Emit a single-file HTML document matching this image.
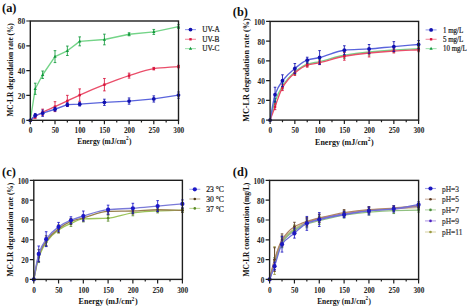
<!DOCTYPE html>
<html><head><meta charset="utf-8"><style>
html,body{margin:0;padding:0;background:#fff;width:470px;height:308px;overflow:hidden}
svg{display:block}
text{font-family:"Liberation Serif", serif}
</style></head><body>
<svg width="470" height="308" viewBox="0 0 470 308">
<rect width="470" height="308" fill="#fff"/>
<text x="2" y="12" font-size="12.4" font-weight="bold" fill="#111">(a)</text>
<path d="M30.3 120.3L35.24 88.77L42.65 74.75L55 56.62L67.35 50.79L79.7 41.36L104.4 39.49L129.1 34.28L153.8 31.92L178.5 26.59" fill="none" stroke="#74d488" stroke-width="1.35" stroke-linejoin="round"/>
<path d="M35.24 83.19V94.36M33.94 83.19H36.54M33.94 94.36H36.54" stroke="#129a3c" stroke-width="0.85" fill="none"/>
<path d="M42.65 71.02V78.47M41.35 71.02H43.95M41.35 78.47H43.95" stroke="#129a3c" stroke-width="0.85" fill="none"/>
<path d="M55 50.67V62.58M53.7 50.67H56.3M53.7 62.58H56.3" stroke="#129a3c" stroke-width="0.85" fill="none"/>
<path d="M67.35 46.07V55.51M66.05 46.07H68.65M66.05 55.51H68.65" stroke="#129a3c" stroke-width="0.85" fill="none"/>
<path d="M79.7 36.89V45.83M78.4 36.89H81M78.4 45.83H81" stroke="#129a3c" stroke-width="0.85" fill="none"/>
<path d="M104.4 34.16V44.83M103.1 34.16H105.7M103.1 44.83H105.7" stroke="#129a3c" stroke-width="0.85" fill="none"/>
<path d="M129.1 32.79V35.77M127.8 32.79H130.4M127.8 35.77H130.4" stroke="#129a3c" stroke-width="0.85" fill="none"/>
<path d="M153.8 29.44V34.41M152.5 29.44H155.1M152.5 34.41H155.1" stroke="#129a3c" stroke-width="0.85" fill="none"/>
<path d="M178.5 24.72V28.45M177.2 24.72H179.8M177.2 28.45H179.8" stroke="#129a3c" stroke-width="0.85" fill="none"/>
<path d="M30.3 118.5L31.95 121.5L28.65 121.5Z" fill="#129a3c"/>
<path d="M35.24 86.97L36.89 89.97L33.59 89.97Z" fill="#129a3c"/>
<path d="M42.65 72.95L44.3 75.95L41 75.95Z" fill="#129a3c"/>
<path d="M55 54.82L56.65 57.82L53.35 57.82Z" fill="#129a3c"/>
<path d="M67.35 48.99L69 51.99L65.7 51.99Z" fill="#129a3c"/>
<path d="M79.7 39.56L81.35 42.56L78.05 42.56Z" fill="#129a3c"/>
<path d="M104.4 37.69L106.05 40.69L102.75 40.69Z" fill="#129a3c"/>
<path d="M129.1 32.48L130.75 35.48L127.45 35.48Z" fill="#129a3c"/>
<path d="M153.8 30.12L155.45 33.12L152.15 33.12Z" fill="#129a3c"/>
<path d="M178.5 24.79L180.15 27.79L176.85 27.79Z" fill="#129a3c"/>
<path d="M30.3 120.3C31.95 119.06 33.59 117.67 35.24 116.58C37.71 114.93 40.18 113.51 42.65 112.23C46.77 110.11 50.88 108.53 55 106.65C59.12 104.76 63.23 102.86 67.35 100.94C71.47 99.01 75.58 96.95 79.7 95.1C87.93 91.41 96.17 87.91 104.4 84.68C112.63 81.44 120.87 78.24 129.1 75.61C137.33 72.99 145.57 69.74 153.8 68.66C162.03 67.58 170.27 67.26 178.5 66.55" fill="none" stroke="#ea4e6a" stroke-width="1.35" stroke-linejoin="round"/>
<path d="M35.24 114.71V118.44M33.94 114.71H36.54M33.94 118.44H36.54" stroke="#d8143c" stroke-width="0.85" fill="none"/>
<path d="M42.65 109.13V115.33M41.35 109.13H43.95M41.35 115.33H43.95" stroke="#d8143c" stroke-width="0.85" fill="none"/>
<path d="M55 101.68V111.61M53.7 101.68H56.3M53.7 111.61H56.3" stroke="#d8143c" stroke-width="0.85" fill="none"/>
<path d="M67.35 95.35V106.52M66.05 95.35H68.65M66.05 106.52H68.65" stroke="#d8143c" stroke-width="0.85" fill="none"/>
<path d="M79.7 88.9V101.31M78.4 88.9H81M78.4 101.31H81" stroke="#d8143c" stroke-width="0.85" fill="none"/>
<path d="M104.4 78.47V90.88M103.1 78.47H105.7M103.1 90.88H105.7" stroke="#d8143c" stroke-width="0.85" fill="none"/>
<path d="M129.1 73.13V78.1M127.8 73.13H130.4M127.8 78.1H130.4" stroke="#d8143c" stroke-width="0.85" fill="none"/>
<path d="M153.8 67.42V69.91M152.5 67.42H155.1M152.5 69.91H155.1" stroke="#d8143c" stroke-width="0.85" fill="none"/>
<path d="M178.5 65.31V67.8M177.2 65.31H179.8M177.2 67.8H179.8" stroke="#d8143c" stroke-width="0.85" fill="none"/>
<rect x="29.1" y="119.1" width="2.4" height="2.4" fill="#d8143c"/>
<rect x="34.04" y="115.38" width="2.4" height="2.4" fill="#d8143c"/>
<rect x="41.45" y="111.03" width="2.4" height="2.4" fill="#d8143c"/>
<rect x="53.8" y="105.45" width="2.4" height="2.4" fill="#d8143c"/>
<rect x="66.15" y="99.74" width="2.4" height="2.4" fill="#d8143c"/>
<rect x="78.5" y="93.9" width="2.4" height="2.4" fill="#d8143c"/>
<rect x="103.2" y="83.48" width="2.4" height="2.4" fill="#d8143c"/>
<rect x="127.9" y="74.41" width="2.4" height="2.4" fill="#d8143c"/>
<rect x="152.6" y="67.46" width="2.4" height="2.4" fill="#d8143c"/>
<rect x="177.3" y="65.35" width="2.4" height="2.4" fill="#d8143c"/>
<path d="M30.3 120.3L35.24 115.33L42.65 113.22L55 109.25L67.35 104.66L79.7 104.16L104.4 102.3L129.1 101.06L153.8 98.95L178.5 95.1" fill="none" stroke="#5a64dc" stroke-width="1.35" stroke-linejoin="round"/>
<path d="M35.24 113.47V117.2M33.94 113.47H36.54M33.94 117.2H36.54" stroke="#1010b0" stroke-width="0.85" fill="none"/>
<path d="M42.65 110.12V116.33M41.35 110.12H43.95M41.35 116.33H43.95" stroke="#1010b0" stroke-width="0.85" fill="none"/>
<path d="M55 107.39V111.11M53.7 107.39H56.3M53.7 111.11H56.3" stroke="#1010b0" stroke-width="0.85" fill="none"/>
<path d="M67.35 102.8V106.52M66.05 102.8H68.65M66.05 106.52H68.65" stroke="#1010b0" stroke-width="0.85" fill="none"/>
<path d="M79.7 102.3V106.03M78.4 102.3H81M78.4 106.03H81" stroke="#1010b0" stroke-width="0.85" fill="none"/>
<path d="M104.4 99.2V105.41M103.1 99.2H105.7M103.1 105.41H105.7" stroke="#1010b0" stroke-width="0.85" fill="none"/>
<path d="M129.1 97.96V104.16M127.8 97.96H130.4M127.8 104.16H130.4" stroke="#1010b0" stroke-width="0.85" fill="none"/>
<path d="M153.8 95.85V102.05M152.5 95.85H155.1M152.5 102.05H155.1" stroke="#1010b0" stroke-width="0.85" fill="none"/>
<path d="M178.5 92V98.21M177.2 92H179.8M177.2 98.21H179.8" stroke="#1010b0" stroke-width="0.85" fill="none"/>
<circle cx="30.3" cy="120.3" r="1.9" fill="#1010b0"/>
<circle cx="35.24" cy="115.33" r="1.9" fill="#1010b0"/>
<circle cx="42.65" cy="113.22" r="1.9" fill="#1010b0"/>
<circle cx="55" cy="109.25" r="1.9" fill="#1010b0"/>
<circle cx="67.35" cy="104.66" r="1.9" fill="#1010b0"/>
<circle cx="79.7" cy="104.16" r="1.9" fill="#1010b0"/>
<circle cx="104.4" cy="102.3" r="1.9" fill="#1010b0"/>
<circle cx="129.1" cy="101.06" r="1.9" fill="#1010b0"/>
<circle cx="153.8" cy="98.95" r="1.9" fill="#1010b0"/>
<circle cx="178.5" cy="95.1" r="1.9" fill="#1010b0"/>
<rect x="30.3" y="21" width="148.2" height="99.3" fill="none" stroke="#1e1e1e" stroke-width="1.4"/>
<path d="M30.3 120.3V124.3M42.65 120.3V122.5M55 120.3V124.3M67.35 120.3V122.5M79.7 120.3V124.3M92.05 120.3V122.5M104.4 120.3V124.3M116.75 120.3V122.5M129.1 120.3V124.3M141.45 120.3V122.5M153.8 120.3V124.3M166.15 120.3V122.5M178.5 120.3V124.3M30.3 120.3H26.3M30.3 95.47H26.3M30.3 70.65H26.3M30.3 45.83H26.3M30.3 21H26.3" stroke="#1e1e1e" stroke-width="1.2"/>
<text x="30.6" y="133.1" font-size="7.3" font-weight="bold" text-anchor="middle" fill="#222">0</text>
<text x="55.3" y="133.1" font-size="7.3" font-weight="bold" text-anchor="middle" fill="#222">50</text>
<text x="80" y="133.1" font-size="7.3" font-weight="bold" text-anchor="middle" fill="#222">100</text>
<text x="104.7" y="133.1" font-size="7.3" font-weight="bold" text-anchor="middle" fill="#222">150</text>
<text x="129.4" y="133.1" font-size="7.3" font-weight="bold" text-anchor="middle" fill="#222">200</text>
<text x="154.1" y="133.1" font-size="7.3" font-weight="bold" text-anchor="middle" fill="#222">250</text>
<text x="178.8" y="133.1" font-size="7.3" font-weight="bold" text-anchor="middle" fill="#222">300</text>
<text x="25.1" y="123.7" font-size="7.3" font-weight="bold" text-anchor="end" fill="#222">0</text>
<text x="25.1" y="98.88" font-size="7.3" font-weight="bold" text-anchor="end" fill="#222">20</text>
<text x="25.1" y="74.05" font-size="7.3" font-weight="bold" text-anchor="end" fill="#222">40</text>
<text x="25.1" y="49.23" font-size="7.3" font-weight="bold" text-anchor="end" fill="#222">60</text>
<text x="25.1" y="24.4" font-size="7.3" font-weight="bold" text-anchor="end" fill="#222">80</text>
<text x="104.4" y="143.7" font-size="7.7" font-weight="bold" text-anchor="middle" fill="#111" textLength="54.3" lengthAdjust="spacingAndGlyphs">Energy (mJ/cm<tspan font-size="5.39" dy="-3.4">2</tspan><tspan dy="3.4" dx="0.5">)</tspan></text>
<text transform="translate(12.7 69.9) rotate(-90)" x="0" y="0" font-size="7.4" font-weight="bold" text-anchor="middle" fill="#111" textLength="93.4" lengthAdjust="spacingAndGlyphs">MC-LR degradation rate (%)</text>
<path d="M185 29.6H196" stroke="#5a64dc" stroke-width="1.1" stroke-opacity="0.65"/>
<circle cx="190.5" cy="29.6" r="1.9" fill="#1010b0"/>
<text transform="translate(202.2 32.4) scale(0.96 1)" font-size="7.6" font-weight="normal" fill="#1e1e1e" stroke="#1e1e1e" stroke-width="0.22">UV-A</text>
<path d="M185 39.3H196" stroke="#ea4e6a" stroke-width="1.1" stroke-opacity="0.65"/>
<rect x="189.3" y="38.1" width="2.4" height="2.4" fill="#d8143c"/>
<text transform="translate(202.2 42.1) scale(0.96 1)" font-size="7.6" font-weight="normal" fill="#1e1e1e" stroke="#1e1e1e" stroke-width="0.22">UV-B</text>
<path d="M185 48.6H196" stroke="#74d488" stroke-width="1.1" stroke-opacity="0.65"/>
<path d="M190.5 46.8L192.15 49.8L188.85 49.8Z" fill="#129a3c"/>
<text transform="translate(202.2 51.4) scale(0.96 1)" font-size="7.6" font-weight="normal" fill="#1e1e1e" stroke="#1e1e1e" stroke-width="0.22">UV-C</text>
<text x="232.8" y="16" font-size="12.4" font-weight="bold" fill="#111">(b)</text>
<path d="M270.1 120.1C271.75 113.85 273.4 105.84 275.05 101.35C277.53 94.61 280 89.76 282.48 86.05C286.6 79.87 290.73 75.37 294.85 72.03C298.98 68.69 303.1 65.56 307.23 64.24C311.35 62.91 315.48 62.53 319.6 61.57C327.85 59.66 336.1 56.69 344.35 55.25C352.6 53.82 360.85 52.82 369.1 52C377.35 51.18 385.6 50.54 393.85 50.02C402.1 49.5 410.35 49.17 418.6 48.74" fill="none" stroke="#74d488" stroke-width="1.35" stroke-linejoin="round"/>
<path d="M275.05 98.39V104.31M273.75 98.39H276.35M273.75 104.31H276.35" stroke="#129a3c" stroke-width="0.85" fill="none"/>
<path d="M282.48 83.09V89.01M281.18 83.09H283.78M281.18 89.01H283.78" stroke="#129a3c" stroke-width="0.85" fill="none"/>
<path d="M294.85 69.57V74.5M293.55 69.57H296.15M293.55 74.5H296.15" stroke="#129a3c" stroke-width="0.85" fill="none"/>
<path d="M307.23 62.26V66.21M305.93 62.26H308.53M305.93 66.21H308.53" stroke="#129a3c" stroke-width="0.85" fill="none"/>
<path d="M319.6 59.6V63.54M318.3 59.6H320.9M318.3 63.54H320.9" stroke="#129a3c" stroke-width="0.85" fill="none"/>
<path d="M344.35 52.29V58.22M343.05 52.29H345.65M343.05 58.22H345.65" stroke="#129a3c" stroke-width="0.85" fill="none"/>
<path d="M369.1 49.04V54.96M367.8 49.04H370.4M367.8 54.96H370.4" stroke="#129a3c" stroke-width="0.85" fill="none"/>
<path d="M393.85 48.05V52M392.55 48.05H395.15M392.55 52H395.15" stroke="#129a3c" stroke-width="0.85" fill="none"/>
<path d="M418.6 46.77V50.71M417.3 46.77H419.9M417.3 50.71H419.9" stroke="#129a3c" stroke-width="0.85" fill="none"/>
<path d="M270.1 118.3L271.75 121.3L268.45 121.3Z" fill="#129a3c"/>
<path d="M275.05 99.55L276.7 102.55L273.4 102.55Z" fill="#129a3c"/>
<path d="M282.48 84.25L284.12 87.25L280.83 87.25Z" fill="#129a3c"/>
<path d="M294.85 70.23L296.5 73.23L293.2 73.23Z" fill="#129a3c"/>
<path d="M307.23 62.44L308.88 65.44L305.58 65.44Z" fill="#129a3c"/>
<path d="M319.6 59.77L321.25 62.77L317.95 62.77Z" fill="#129a3c"/>
<path d="M344.35 53.45L346 56.45L342.7 56.45Z" fill="#129a3c"/>
<path d="M369.1 50.2L370.75 53.2L367.45 53.2Z" fill="#129a3c"/>
<path d="M393.85 48.22L395.5 51.22L392.2 51.22Z" fill="#129a3c"/>
<path d="M418.6 46.94L420.25 49.94L416.95 49.94Z" fill="#129a3c"/>
<path d="M270.1 120.1C271.75 115.63 273.4 111.04 275.05 106.68C277.53 100.14 280 91.76 282.48 87.63C286.6 80.75 290.73 76.41 294.85 73.02C298.98 69.63 303.1 66.51 307.23 65.22C311.35 63.94 315.48 63.6 319.6 62.66C327.85 60.78 336.1 57.68 344.35 56.24C352.6 54.8 360.85 53.8 369.1 52.98C377.35 52.16 385.6 51.53 393.85 51.01C402.1 50.49 410.35 50.15 418.6 49.73" fill="none" stroke="#ea4e6a" stroke-width="1.35" stroke-linejoin="round"/>
<path d="M275.05 103.72V109.64M273.75 103.72H276.35M273.75 109.64H276.35" stroke="#d8143c" stroke-width="0.85" fill="none"/>
<path d="M282.48 84.67V90.59M281.18 84.67H283.78M281.18 90.59H283.78" stroke="#d8143c" stroke-width="0.85" fill="none"/>
<path d="M294.85 70.55V75.49M293.55 70.55H296.15M293.55 75.49H296.15" stroke="#d8143c" stroke-width="0.85" fill="none"/>
<path d="M307.23 63.25V67.2M305.93 63.25H308.53M305.93 67.2H308.53" stroke="#d8143c" stroke-width="0.85" fill="none"/>
<path d="M319.6 60.68V64.63M318.3 60.68H320.9M318.3 64.63H320.9" stroke="#d8143c" stroke-width="0.85" fill="none"/>
<path d="M344.35 52.29V60.19M343.05 52.29H345.65M343.05 60.19H345.65" stroke="#d8143c" stroke-width="0.85" fill="none"/>
<path d="M369.1 49.04V56.93M367.8 49.04H370.4M367.8 56.93H370.4" stroke="#d8143c" stroke-width="0.85" fill="none"/>
<path d="M393.85 49.04V52.98M392.55 49.04H395.15M392.55 52.98H395.15" stroke="#d8143c" stroke-width="0.85" fill="none"/>
<path d="M418.6 47.75V51.7M417.3 47.75H419.9M417.3 51.7H419.9" stroke="#d8143c" stroke-width="0.85" fill="none"/>
<rect x="268.9" y="118.9" width="2.4" height="2.4" fill="#d8143c"/>
<rect x="273.85" y="105.48" width="2.4" height="2.4" fill="#d8143c"/>
<rect x="281.28" y="86.43" width="2.4" height="2.4" fill="#d8143c"/>
<rect x="293.65" y="71.82" width="2.4" height="2.4" fill="#d8143c"/>
<rect x="306.03" y="64.02" width="2.4" height="2.4" fill="#d8143c"/>
<rect x="318.4" y="61.46" width="2.4" height="2.4" fill="#d8143c"/>
<rect x="343.15" y="55.04" width="2.4" height="2.4" fill="#d8143c"/>
<rect x="367.9" y="51.78" width="2.4" height="2.4" fill="#d8143c"/>
<rect x="392.65" y="49.81" width="2.4" height="2.4" fill="#d8143c"/>
<rect x="417.4" y="48.53" width="2.4" height="2.4" fill="#d8143c"/>
<path d="M270.1 120.1C271.75 111.61 273.4 99.31 275.05 94.64C277.53 87.62 280 84.01 282.48 80.72C286.6 75.24 290.73 71.77 294.85 68.48C298.98 65.18 303.1 61.53 307.23 60.19C311.35 58.84 315.48 58.53 319.6 57.52C327.85 55.51 336.1 50.95 344.35 50.22C352.6 49.49 360.85 49.49 369.1 48.94C377.35 48.38 385.6 47.31 393.85 46.57C402.1 45.83 410.35 45.19 418.6 44.5" fill="none" stroke="#5a64dc" stroke-width="1.35" stroke-linejoin="round"/>
<path d="M275.05 87.23V102.04M273.75 87.23H276.35M273.75 102.04H276.35" stroke="#1010b0" stroke-width="0.85" fill="none"/>
<path d="M282.48 74.8V86.64M281.18 74.8H283.78M281.18 86.64H283.78" stroke="#1010b0" stroke-width="0.85" fill="none"/>
<path d="M294.85 63.54V73.41M293.55 63.54H296.15M293.55 73.41H296.15" stroke="#1010b0" stroke-width="0.85" fill="none"/>
<path d="M307.23 57.23V63.15M305.93 57.23H308.53M305.93 63.15H308.53" stroke="#1010b0" stroke-width="0.85" fill="none"/>
<path d="M319.6 50.62V64.43M318.3 50.62H320.9M318.3 64.43H320.9" stroke="#1010b0" stroke-width="0.85" fill="none"/>
<path d="M344.35 45.78V54.66M343.05 45.78H345.65M343.05 54.66H345.65" stroke="#1010b0" stroke-width="0.85" fill="none"/>
<path d="M369.1 44.5V53.38M367.8 44.5H370.4M367.8 53.38H370.4" stroke="#1010b0" stroke-width="0.85" fill="none"/>
<path d="M393.85 41.63V51.5M392.55 41.63H395.15M392.55 51.5H395.15" stroke="#1010b0" stroke-width="0.85" fill="none"/>
<path d="M418.6 40.55V48.44M417.3 40.55H419.9M417.3 48.44H419.9" stroke="#1010b0" stroke-width="0.85" fill="none"/>
<circle cx="270.1" cy="120.1" r="1.9" fill="#1010b0"/>
<circle cx="275.05" cy="94.64" r="1.9" fill="#1010b0"/>
<circle cx="282.48" cy="80.72" r="1.9" fill="#1010b0"/>
<circle cx="294.85" cy="68.48" r="1.9" fill="#1010b0"/>
<circle cx="307.23" cy="60.19" r="1.9" fill="#1010b0"/>
<circle cx="319.6" cy="57.52" r="1.9" fill="#1010b0"/>
<circle cx="344.35" cy="50.22" r="1.9" fill="#1010b0"/>
<circle cx="369.1" cy="48.94" r="1.9" fill="#1010b0"/>
<circle cx="393.85" cy="46.57" r="1.9" fill="#1010b0"/>
<circle cx="418.6" cy="44.5" r="1.9" fill="#1010b0"/>
<rect x="270.1" y="21.4" width="148.5" height="98.7" fill="none" stroke="#1e1e1e" stroke-width="1.4"/>
<path d="M270.1 120.1V124.1M282.48 120.1V122.3M294.85 120.1V124.1M307.23 120.1V122.3M319.6 120.1V124.1M331.98 120.1V122.3M344.35 120.1V124.1M356.73 120.1V122.3M369.1 120.1V124.1M381.48 120.1V122.3M393.85 120.1V124.1M406.23 120.1V122.3M418.6 120.1V124.1M270.1 120.1H266.1M270.1 100.36H266.1M270.1 80.62H266.1M270.1 60.88H266.1M270.1 41.14H266.1M270.1 21.4H266.1" stroke="#1e1e1e" stroke-width="1.2"/>
<text x="270.4" y="132.9" font-size="7.3" font-weight="bold" text-anchor="middle" fill="#222">0</text>
<text x="295.15" y="132.9" font-size="7.3" font-weight="bold" text-anchor="middle" fill="#222">50</text>
<text x="319.9" y="132.9" font-size="7.3" font-weight="bold" text-anchor="middle" fill="#222">100</text>
<text x="344.65" y="132.9" font-size="7.3" font-weight="bold" text-anchor="middle" fill="#222">150</text>
<text x="369.4" y="132.9" font-size="7.3" font-weight="bold" text-anchor="middle" fill="#222">200</text>
<text x="394.15" y="132.9" font-size="7.3" font-weight="bold" text-anchor="middle" fill="#222">250</text>
<text x="418.9" y="132.9" font-size="7.3" font-weight="bold" text-anchor="middle" fill="#222">300</text>
<text x="264.9" y="123.5" font-size="7.3" font-weight="bold" text-anchor="end" fill="#222">0</text>
<text x="264.9" y="103.76" font-size="7.3" font-weight="bold" text-anchor="end" fill="#222">20</text>
<text x="264.9" y="84.02" font-size="7.3" font-weight="bold" text-anchor="end" fill="#222">40</text>
<text x="264.9" y="64.28" font-size="7.3" font-weight="bold" text-anchor="end" fill="#222">60</text>
<text x="264.9" y="44.54" font-size="7.3" font-weight="bold" text-anchor="end" fill="#222">80</text>
<text x="264.9" y="24.8" font-size="7.3" font-weight="bold" text-anchor="end" fill="#222">100</text>
<text x="344.35" y="144.6" font-size="8.1" font-weight="bold" text-anchor="middle" fill="#111" textLength="58.5" lengthAdjust="spacingAndGlyphs">Energy (mJ/cm<tspan font-size="5.67" dy="-3.4">2</tspan><tspan dy="3.4" dx="0.5">)</tspan></text>
<text transform="translate(248.6 70.1) rotate(-90)" x="0" y="0" font-size="7.5" font-weight="bold" text-anchor="middle" fill="#111" textLength="103.4" lengthAdjust="spacingAndGlyphs">MC-LR degradation rate (%)</text>
<path d="M425.6 29.9H436.6" stroke="#5a64dc" stroke-width="1.1" stroke-opacity="0.65"/>
<circle cx="431.1" cy="29.9" r="1.9" fill="#1010b0"/>
<text transform="translate(443 32.7) scale(0.94 1)" font-size="7.4" font-weight="normal" fill="#1e1e1e" stroke="#1e1e1e" stroke-width="0.22">1 mg/L</text>
<path d="M425.6 39.3H436.6" stroke="#ea4e6a" stroke-width="1.1" stroke-opacity="0.65"/>
<rect x="429.9" y="38.1" width="2.4" height="2.4" fill="#d8143c"/>
<text transform="translate(443 42.1) scale(0.94 1)" font-size="7.4" font-weight="normal" fill="#1e1e1e" stroke="#1e1e1e" stroke-width="0.22">5 mg/L</text>
<path d="M425.6 48.6H436.6" stroke="#74d488" stroke-width="1.1" stroke-opacity="0.65"/>
<path d="M431.1 46.8L432.75 49.8L429.45 49.8Z" fill="#129a3c"/>
<text transform="translate(443 51.4) scale(0.94 1)" font-size="7.4" font-weight="normal" fill="#1e1e1e" stroke="#1e1e1e" stroke-width="0.22">10 mg/L</text>
<text x="2" y="175.6" font-size="12.4" font-weight="bold" fill="#111">(c)</text>
<path d="M33.8 279.4C35.45 272.13 37.1 262.36 38.75 257.6C41.23 250.46 43.71 245.68 46.18 242.24C50.31 236.51 54.44 232.68 58.57 229.85C62.69 227.02 66.82 225.17 70.95 223.41C75.08 221.65 79.21 219.22 83.33 218.95C91.59 218.41 99.84 218.62 108.1 218.16C116.36 217.7 124.61 213.73 132.87 212.8C141.12 211.88 149.38 211.29 157.63 210.92C165.89 210.55 174.14 210.39 182.4 210.13" fill="none" stroke="#9cc45a" stroke-width="1.35" stroke-linejoin="round"/>
<path d="M38.75 252.64V262.55M37.45 252.64H40.05M37.45 262.55H40.05" stroke="#5a8a28" stroke-width="0.85" fill="none"/>
<path d="M46.18 238.27V246.2M44.88 238.27H47.48M44.88 246.2H47.48" stroke="#5a8a28" stroke-width="0.85" fill="none"/>
<path d="M58.57 226.88V232.82M57.27 226.88H59.87M57.27 232.82H59.87" stroke="#5a8a28" stroke-width="0.85" fill="none"/>
<path d="M70.95 220.44V226.38M69.65 220.44H72.25M69.65 226.38H72.25" stroke="#5a8a28" stroke-width="0.85" fill="none"/>
<path d="M83.33 215.98V221.92M82.03 215.98H84.63M82.03 221.92H84.63" stroke="#5a8a28" stroke-width="0.85" fill="none"/>
<path d="M108.1 215.18V221.13M106.8 215.18H109.4M106.8 221.13H109.4" stroke="#5a8a28" stroke-width="0.85" fill="none"/>
<path d="M132.87 209.83V215.78M131.57 209.83H134.17M131.57 215.78H134.17" stroke="#5a8a28" stroke-width="0.85" fill="none"/>
<path d="M157.63 208.94V212.9M156.33 208.94H158.93M156.33 212.9H158.93" stroke="#5a8a28" stroke-width="0.85" fill="none"/>
<path d="M182.4 208.15V212.11M181.1 208.15H183.7M181.1 212.11H183.7" stroke="#5a8a28" stroke-width="0.85" fill="none"/>
<circle cx="33.8" cy="279.4" r="1.3" fill="#5a8a28"/>
<circle cx="38.75" cy="257.6" r="1.3" fill="#5a8a28"/>
<circle cx="46.18" cy="242.24" r="1.3" fill="#5a8a28"/>
<circle cx="58.57" cy="229.85" r="1.3" fill="#5a8a28"/>
<circle cx="70.95" cy="223.41" r="1.3" fill="#5a8a28"/>
<circle cx="83.33" cy="218.95" r="1.3" fill="#5a8a28"/>
<circle cx="108.1" cy="218.16" r="1.3" fill="#5a8a28"/>
<circle cx="132.87" cy="212.8" r="1.3" fill="#5a8a28"/>
<circle cx="157.63" cy="210.92" r="1.3" fill="#5a8a28"/>
<circle cx="182.4" cy="210.13" r="1.3" fill="#5a8a28"/>
<path d="M33.8 279.4C35.45 271.47 37.1 260.41 38.75 255.62C41.23 248.42 43.71 244.06 46.18 240.75C50.31 235.23 54.44 231.91 58.57 228.86C62.69 225.81 66.82 223 70.95 221.43C75.08 219.85 79.21 219.08 83.33 217.96C91.59 215.71 99.84 211.67 108.1 211.42C116.36 211.17 124.61 211.22 132.87 211.02C141.12 210.82 149.38 209.73 157.63 209.73C165.89 209.73 174.14 210.13 182.4 210.33" fill="none" stroke="#98804e" stroke-width="1.35" stroke-linejoin="round"/>
<path d="M38.75 249.67V261.56M37.45 249.67H40.05M37.45 261.56H40.05" stroke="#4e3a1c" stroke-width="0.85" fill="none"/>
<path d="M46.18 235.8V245.71M44.88 235.8H47.48M44.88 245.71H47.48" stroke="#4e3a1c" stroke-width="0.85" fill="none"/>
<path d="M58.57 224.89V232.82M57.27 224.89H59.87M57.27 232.82H59.87" stroke="#4e3a1c" stroke-width="0.85" fill="none"/>
<path d="M70.95 218.45V224.4M69.65 218.45H72.25M69.65 224.4H72.25" stroke="#4e3a1c" stroke-width="0.85" fill="none"/>
<path d="M83.33 214.99V220.93M82.03 214.99H84.63M82.03 220.93H84.63" stroke="#4e3a1c" stroke-width="0.85" fill="none"/>
<path d="M108.1 208.44V214.39M106.8 208.44H109.4M106.8 214.39H109.4" stroke="#4e3a1c" stroke-width="0.85" fill="none"/>
<path d="M132.87 208.05V213.99M131.57 208.05H134.17M131.57 213.99H134.17" stroke="#4e3a1c" stroke-width="0.85" fill="none"/>
<path d="M157.63 207.75V211.71M156.33 207.75H158.93M156.33 211.71H158.93" stroke="#4e3a1c" stroke-width="0.85" fill="none"/>
<path d="M182.4 208.35V212.31M181.1 208.35H183.7M181.1 212.31H183.7" stroke="#4e3a1c" stroke-width="0.85" fill="none"/>
<circle cx="33.8" cy="279.4" r="1.3" fill="#4e3a1c"/>
<circle cx="38.75" cy="255.62" r="1.3" fill="#4e3a1c"/>
<circle cx="46.18" cy="240.75" r="1.3" fill="#4e3a1c"/>
<circle cx="58.57" cy="228.86" r="1.3" fill="#4e3a1c"/>
<circle cx="70.95" cy="221.43" r="1.3" fill="#4e3a1c"/>
<circle cx="83.33" cy="217.96" r="1.3" fill="#4e3a1c"/>
<circle cx="108.1" cy="211.42" r="1.3" fill="#4e3a1c"/>
<circle cx="132.87" cy="211.02" r="1.3" fill="#4e3a1c"/>
<circle cx="157.63" cy="209.73" r="1.3" fill="#4e3a1c"/>
<circle cx="182.4" cy="210.33" r="1.3" fill="#4e3a1c"/>
<path d="M33.8 279.4C35.45 270.91 37.1 258.81 38.75 253.93C41.23 246.62 43.71 242.54 46.18 239.17C50.31 233.55 54.44 229.75 58.57 226.88C62.69 224 66.82 221.97 70.95 220.24C75.08 218.51 79.21 217.21 83.33 215.98C91.59 213.51 99.84 210.39 108.1 209.63C116.36 208.87 124.61 208.81 132.87 208.25C141.12 207.68 149.38 206.79 157.63 206.07C165.89 205.34 174.14 204.61 182.4 203.89" fill="none" stroke="#7a7ad8" stroke-width="1.35" stroke-linejoin="round"/>
<path d="M38.75 246V261.86M37.45 246H40.05M37.45 261.86H40.05" stroke="#1c18c8" stroke-width="0.85" fill="none"/>
<path d="M46.18 231.73V246.6M44.88 231.73H47.48M44.88 246.6H47.48" stroke="#1c18c8" stroke-width="0.85" fill="none"/>
<path d="M58.57 222.42V231.34M57.27 222.42H59.87M57.27 231.34H59.87" stroke="#1c18c8" stroke-width="0.85" fill="none"/>
<path d="M70.95 216.77V223.71M69.65 216.77H72.25M69.65 223.71H72.25" stroke="#1c18c8" stroke-width="0.85" fill="none"/>
<path d="M83.33 211.02V220.93M82.03 211.02H84.63M82.03 220.93H84.63" stroke="#1c18c8" stroke-width="0.85" fill="none"/>
<path d="M108.1 205.17V214.09M106.8 205.17H109.4M106.8 214.09H109.4" stroke="#1c18c8" stroke-width="0.85" fill="none"/>
<path d="M132.87 203.29V213.2M131.57 203.29H134.17M131.57 213.2H134.17" stroke="#1c18c8" stroke-width="0.85" fill="none"/>
<path d="M157.63 200.62V211.52M156.33 200.62H158.93M156.33 211.52H158.93" stroke="#1c18c8" stroke-width="0.85" fill="none"/>
<path d="M182.4 199.92V207.85M181.1 199.92H183.7M181.1 207.85H183.7" stroke="#1c18c8" stroke-width="0.85" fill="none"/>
<circle cx="33.8" cy="279.4" r="2.1" fill="#1c18c8"/>
<circle cx="38.75" cy="253.93" r="2.1" fill="#1c18c8"/>
<circle cx="46.18" cy="239.17" r="2.1" fill="#1c18c8"/>
<circle cx="58.57" cy="226.88" r="2.1" fill="#1c18c8"/>
<circle cx="70.95" cy="220.24" r="2.1" fill="#1c18c8"/>
<circle cx="83.33" cy="215.98" r="2.1" fill="#1c18c8"/>
<circle cx="108.1" cy="209.63" r="2.1" fill="#1c18c8"/>
<circle cx="132.87" cy="208.25" r="2.1" fill="#1c18c8"/>
<circle cx="157.63" cy="206.07" r="2.1" fill="#1c18c8"/>
<circle cx="182.4" cy="203.89" r="2.1" fill="#1c18c8"/>
<rect x="33.8" y="180.3" width="148.6" height="99.1" fill="none" stroke="#1e1e1e" stroke-width="1.4"/>
<path d="M33.8 279.4V283.4M46.18 279.4V281.6M58.57 279.4V283.4M70.95 279.4V281.6M83.33 279.4V283.4M95.72 279.4V281.6M108.1 279.4V283.4M120.48 279.4V281.6M132.87 279.4V283.4M145.25 279.4V281.6M157.63 279.4V283.4M170.02 279.4V281.6M182.4 279.4V283.4M33.8 279.4H29.8M33.8 259.58H29.8M33.8 239.76H29.8M33.8 219.94H29.8M33.8 200.12H29.8M33.8 180.3H29.8" stroke="#1e1e1e" stroke-width="1.2"/>
<text x="34.1" y="292.7" font-size="7.3" font-weight="bold" text-anchor="middle" fill="#222">0</text>
<text x="58.87" y="292.7" font-size="7.3" font-weight="bold" text-anchor="middle" fill="#222">50</text>
<text x="83.63" y="292.7" font-size="7.3" font-weight="bold" text-anchor="middle" fill="#222">100</text>
<text x="108.4" y="292.7" font-size="7.3" font-weight="bold" text-anchor="middle" fill="#222">150</text>
<text x="133.17" y="292.7" font-size="7.3" font-weight="bold" text-anchor="middle" fill="#222">200</text>
<text x="157.93" y="292.7" font-size="7.3" font-weight="bold" text-anchor="middle" fill="#222">250</text>
<text x="182.7" y="292.7" font-size="7.3" font-weight="bold" text-anchor="middle" fill="#222">300</text>
<text x="28.6" y="282.8" font-size="7.3" font-weight="bold" text-anchor="end" fill="#222">0</text>
<text x="28.6" y="262.98" font-size="7.3" font-weight="bold" text-anchor="end" fill="#222">20</text>
<text x="28.6" y="243.16" font-size="7.3" font-weight="bold" text-anchor="end" fill="#222">40</text>
<text x="28.6" y="223.34" font-size="7.3" font-weight="bold" text-anchor="end" fill="#222">60</text>
<text x="28.6" y="203.52" font-size="7.3" font-weight="bold" text-anchor="end" fill="#222">80</text>
<text x="28.6" y="183.7" font-size="7.3" font-weight="bold" text-anchor="end" fill="#222">100</text>
<text x="108.1" y="304.3" font-size="8.1" font-weight="bold" text-anchor="middle" fill="#111" textLength="59" lengthAdjust="spacingAndGlyphs">Energy (mJ/cm<tspan font-size="5.67" dy="-3.4">2</tspan><tspan dy="3.4" dx="0.5">)</tspan></text>
<text transform="translate(12.6 229.7) rotate(-90)" x="0" y="0" font-size="7.4" font-weight="bold" text-anchor="middle" fill="#111" textLength="93.8" lengthAdjust="spacingAndGlyphs">MC-LR degradation rate (%)</text>
<path d="M189.3 189.3H200.3" stroke="#7a7ad8" stroke-width="1.1" stroke-opacity="0.65"/>
<circle cx="194.8" cy="189.3" r="2.1" fill="#1c18c8"/>
<text transform="translate(206.2 192.4) scale(1 1)" font-size="7.6" font-weight="normal" fill="#1e1e1e" stroke="#1e1e1e" stroke-width="0.22">23 °C</text>
<path d="M189.3 199H200.3" stroke="#98804e" stroke-width="1.1" stroke-opacity="0.65"/>
<circle cx="194.8" cy="199" r="1.3" fill="#4e3a1c"/>
<text transform="translate(206.2 202.1) scale(1 1)" font-size="7.6" font-weight="normal" fill="#1e1e1e" stroke="#1e1e1e" stroke-width="0.22">30 °C</text>
<path d="M189.3 208.4H200.3" stroke="#9cc45a" stroke-width="1.1" stroke-opacity="0.65"/>
<circle cx="194.8" cy="208.4" r="1.3" fill="#5a8a28"/>
<text transform="translate(206.2 211.5) scale(1 1)" font-size="7.6" font-weight="normal" fill="#1e1e1e" stroke="#1e1e1e" stroke-width="0.22">37 °C</text>
<text x="232.8" y="175.6" font-size="12.4" font-weight="bold" fill="#111">(d)</text>
<path d="M269.6 279.4C271.26 273.13 272.91 265.82 274.57 260.59C277.05 252.74 279.53 244.43 282.02 240.79C286.16 234.73 290.29 231.69 294.43 228.91C298.57 226.13 302.71 223.98 306.85 222.47C310.99 220.97 315.13 220.04 319.27 219.01C327.54 216.95 335.82 214.98 344.1 213.56C352.38 212.15 360.66 210.79 368.93 210.1C377.21 209.41 385.49 209.01 393.77 208.62C402.04 208.22 410.32 207.96 418.6 207.62" fill="none" stroke="#c8c080" stroke-width="1.35" stroke-linejoin="round"/>
<path d="M274.57 246.73V274.45M273.27 246.73H275.87M273.27 274.45H275.87" stroke="#9a9a40" stroke-width="0.85" fill="none"/>
<path d="M282.02 235.84V245.74M280.72 235.84H283.32M280.72 245.74H283.32" stroke="#9a9a40" stroke-width="0.85" fill="none"/>
<path d="M294.43 224.95V232.87M293.13 224.95H295.73M293.13 232.87H295.73" stroke="#9a9a40" stroke-width="0.85" fill="none"/>
<path d="M306.85 218.51V226.44M305.55 218.51H308.15M305.55 226.44H308.15" stroke="#9a9a40" stroke-width="0.85" fill="none"/>
<path d="M319.27 215.05V222.97M317.97 215.05H320.57M317.97 222.97H320.57" stroke="#9a9a40" stroke-width="0.85" fill="none"/>
<path d="M344.1 210.59V216.53M342.8 210.59H345.4M342.8 216.53H345.4" stroke="#9a9a40" stroke-width="0.85" fill="none"/>
<path d="M368.93 207.13V213.07M367.63 207.13H370.23M367.63 213.07H370.23" stroke="#9a9a40" stroke-width="0.85" fill="none"/>
<path d="M393.77 205.64V211.58M392.47 205.64H395.07M392.47 211.58H395.07" stroke="#9a9a40" stroke-width="0.85" fill="none"/>
<path d="M418.6 205.64V209.6M417.3 205.64H419.9M417.3 209.6H419.9" stroke="#9a9a40" stroke-width="0.85" fill="none"/>
<circle cx="269.6" cy="279.4" r="1.3" fill="#9a9a40"/>
<circle cx="274.57" cy="260.59" r="1.3" fill="#9a9a40"/>
<circle cx="282.02" cy="240.79" r="1.3" fill="#9a9a40"/>
<circle cx="294.43" cy="228.91" r="1.3" fill="#9a9a40"/>
<circle cx="306.85" cy="222.47" r="1.3" fill="#9a9a40"/>
<circle cx="319.27" cy="219.01" r="1.3" fill="#9a9a40"/>
<circle cx="344.1" cy="213.56" r="1.3" fill="#9a9a40"/>
<circle cx="368.93" cy="210.1" r="1.3" fill="#9a9a40"/>
<circle cx="393.77" cy="208.62" r="1.3" fill="#9a9a40"/>
<circle cx="418.6" cy="207.62" r="1.3" fill="#9a9a40"/>
<path d="M269.6 279.4C271.26 274.45 272.91 269.55 274.57 264.55C277.05 257.05 279.53 245.33 282.02 241.78C286.16 235.87 290.29 233.95 294.43 230.89C298.57 227.83 302.71 224.87 306.85 222.97C310.99 221.07 315.13 219.54 319.27 218.51C327.54 216.46 335.82 215.36 344.1 214.06C352.38 212.76 360.66 211.29 368.93 210.59C377.21 209.9 385.49 209.77 393.77 209.11C402.04 208.45 410.32 207.13 418.6 206.14" fill="none" stroke="#8a6ad8" stroke-width="1.35" stroke-linejoin="round"/>
<path d="M274.57 259.6V269.5M273.27 259.6H275.87M273.27 269.5H275.87" stroke="#4a20c0" stroke-width="0.85" fill="none"/>
<path d="M282.02 236.83V246.73M280.72 236.83H283.32M280.72 246.73H283.32" stroke="#4a20c0" stroke-width="0.85" fill="none"/>
<path d="M294.43 226.93V234.85M293.13 226.93H295.73M293.13 234.85H295.73" stroke="#4a20c0" stroke-width="0.85" fill="none"/>
<path d="M306.85 219.01V226.93M305.55 219.01H308.15M305.55 226.93H308.15" stroke="#4a20c0" stroke-width="0.85" fill="none"/>
<path d="M319.27 214.56V222.47M317.97 214.56H320.57M317.97 222.47H320.57" stroke="#4a20c0" stroke-width="0.85" fill="none"/>
<path d="M344.1 211.09V217.03M342.8 211.09H345.4M342.8 217.03H345.4" stroke="#4a20c0" stroke-width="0.85" fill="none"/>
<path d="M368.93 207.62V213.56M367.63 207.62H370.23M367.63 213.56H370.23" stroke="#4a20c0" stroke-width="0.85" fill="none"/>
<path d="M393.77 206.14V212.08M392.47 206.14H395.07M392.47 212.08H395.07" stroke="#4a20c0" stroke-width="0.85" fill="none"/>
<path d="M418.6 203.17V209.11M417.3 203.17H419.9M417.3 209.11H419.9" stroke="#4a20c0" stroke-width="0.85" fill="none"/>
<circle cx="269.6" cy="279.4" r="1.3" fill="#4a20c0"/>
<circle cx="274.57" cy="264.55" r="1.3" fill="#4a20c0"/>
<circle cx="282.02" cy="241.78" r="1.3" fill="#4a20c0"/>
<circle cx="294.43" cy="230.89" r="1.3" fill="#4a20c0"/>
<circle cx="306.85" cy="222.97" r="1.3" fill="#4a20c0"/>
<circle cx="319.27" cy="218.51" r="1.3" fill="#4a20c0"/>
<circle cx="344.1" cy="214.06" r="1.3" fill="#4a20c0"/>
<circle cx="368.93" cy="210.59" r="1.3" fill="#4a20c0"/>
<circle cx="393.77" cy="209.11" r="1.3" fill="#4a20c0"/>
<circle cx="418.6" cy="206.14" r="1.3" fill="#4a20c0"/>
<path d="M269.6 279.4C271.26 273.79 272.91 267.54 274.57 262.57C277.05 255.11 279.53 246.61 282.02 242.77C286.16 236.36 290.29 232.61 294.43 229.9C298.57 227.19 302.71 225.42 306.85 223.96C310.99 222.5 315.13 221.53 319.27 220.5C327.54 218.43 335.82 216.33 344.1 215.05C352.38 213.77 360.66 212.74 368.93 212.08C377.21 211.42 385.49 210.84 393.77 210.59C402.04 210.35 410.32 210.26 418.6 210.1" fill="none" stroke="#90c080" stroke-width="1.35" stroke-linejoin="round"/>
<path d="M274.57 257.62V267.52M273.27 257.62H275.87M273.27 267.52H275.87" stroke="#4a8a3a" stroke-width="0.85" fill="none"/>
<path d="M282.02 237.82V247.72M280.72 237.82H283.32M280.72 247.72H283.32" stroke="#4a8a3a" stroke-width="0.85" fill="none"/>
<path d="M294.43 225.94V233.86M293.13 225.94H295.73M293.13 233.86H295.73" stroke="#4a8a3a" stroke-width="0.85" fill="none"/>
<path d="M306.85 220V227.92M305.55 220H308.15M305.55 227.92H308.15" stroke="#4a8a3a" stroke-width="0.85" fill="none"/>
<path d="M319.27 216.53V224.45M317.97 216.53H320.57M317.97 224.45H320.57" stroke="#4a8a3a" stroke-width="0.85" fill="none"/>
<path d="M344.1 212.08V218.02M342.8 212.08H345.4M342.8 218.02H345.4" stroke="#4a8a3a" stroke-width="0.85" fill="none"/>
<path d="M368.93 209.11V215.05M367.63 209.11H370.23M367.63 215.05H370.23" stroke="#4a8a3a" stroke-width="0.85" fill="none"/>
<path d="M393.77 207.62V213.56M392.47 207.62H395.07M392.47 213.56H395.07" stroke="#4a8a3a" stroke-width="0.85" fill="none"/>
<path d="M418.6 208.12V212.08M417.3 208.12H419.9M417.3 212.08H419.9" stroke="#4a8a3a" stroke-width="0.85" fill="none"/>
<circle cx="269.6" cy="279.4" r="1.3" fill="#4a8a3a"/>
<circle cx="274.57" cy="262.57" r="1.3" fill="#4a8a3a"/>
<circle cx="282.02" cy="242.77" r="1.3" fill="#4a8a3a"/>
<circle cx="294.43" cy="229.9" r="1.3" fill="#4a8a3a"/>
<circle cx="306.85" cy="223.96" r="1.3" fill="#4a8a3a"/>
<circle cx="319.27" cy="220.5" r="1.3" fill="#4a8a3a"/>
<circle cx="344.1" cy="215.05" r="1.3" fill="#4a8a3a"/>
<circle cx="368.93" cy="212.08" r="1.3" fill="#4a8a3a"/>
<circle cx="393.77" cy="210.59" r="1.3" fill="#4a8a3a"/>
<circle cx="418.6" cy="210.1" r="1.3" fill="#4a8a3a"/>
<path d="M269.6 279.4C271.26 272.8 272.91 264.95 274.57 259.6C277.05 251.57 279.53 243.68 282.02 239.8C286.16 233.33 290.29 229.23 294.43 226.73C298.57 224.24 302.71 222.88 306.85 221.48C310.99 220.09 315.13 219.05 319.27 218.02C327.54 215.96 335.82 213.86 344.1 212.57C352.38 211.29 360.66 210.26 368.93 209.6C377.21 208.94 385.49 208.74 393.77 208.12C402.04 207.5 410.32 206.47 418.6 205.64" fill="none" stroke="#b08468" stroke-width="1.35" stroke-linejoin="round"/>
<path d="M274.57 247.72V271.48M273.27 247.72H275.87M273.27 271.48H275.87" stroke="#5a3a22" stroke-width="0.85" fill="none"/>
<path d="M282.02 233.86V245.74M280.72 233.86H283.32M280.72 245.74H283.32" stroke="#5a3a22" stroke-width="0.85" fill="none"/>
<path d="M294.43 222.28V231.19M293.13 222.28H295.73M293.13 231.19H295.73" stroke="#5a3a22" stroke-width="0.85" fill="none"/>
<path d="M306.85 217.52V225.44M305.55 217.52H308.15M305.55 225.44H308.15" stroke="#5a3a22" stroke-width="0.85" fill="none"/>
<path d="M319.27 214.06V221.98M317.97 214.06H320.57M317.97 221.98H320.57" stroke="#5a3a22" stroke-width="0.85" fill="none"/>
<path d="M344.1 209.6V215.54M342.8 209.6H345.4M342.8 215.54H345.4" stroke="#5a3a22" stroke-width="0.85" fill="none"/>
<path d="M368.93 206.63V212.57M367.63 206.63H370.23M367.63 212.57H370.23" stroke="#5a3a22" stroke-width="0.85" fill="none"/>
<path d="M393.77 206.14V210.1M392.47 206.14H395.07M392.47 210.1H395.07" stroke="#5a3a22" stroke-width="0.85" fill="none"/>
<path d="M418.6 203.66V207.62M417.3 203.66H419.9M417.3 207.62H419.9" stroke="#5a3a22" stroke-width="0.85" fill="none"/>
<circle cx="269.6" cy="279.4" r="1.3" fill="#5a3a22"/>
<circle cx="274.57" cy="259.6" r="1.3" fill="#5a3a22"/>
<circle cx="282.02" cy="239.8" r="1.3" fill="#5a3a22"/>
<circle cx="294.43" cy="226.73" r="1.3" fill="#5a3a22"/>
<circle cx="306.85" cy="221.48" r="1.3" fill="#5a3a22"/>
<circle cx="319.27" cy="218.02" r="1.3" fill="#5a3a22"/>
<circle cx="344.1" cy="212.57" r="1.3" fill="#5a3a22"/>
<circle cx="368.93" cy="209.6" r="1.3" fill="#5a3a22"/>
<circle cx="393.77" cy="208.12" r="1.3" fill="#5a3a22"/>
<circle cx="418.6" cy="205.64" r="1.3" fill="#5a3a22"/>
<path d="M269.6 279.4C271.26 274.98 272.91 270.76 274.57 266.13C277.05 259.19 279.53 247.7 282.02 244.16C286.16 238.26 290.29 236.62 294.43 233.17C298.57 229.71 302.71 225.21 306.85 223.37C310.99 221.52 315.13 220.52 319.27 219.5C327.54 217.47 335.82 216.07 344.1 214.65C352.38 213.24 360.66 211.78 368.93 210.89C377.21 210 385.49 209.74 393.77 208.81C402.04 207.89 410.32 206.04 418.6 204.66" fill="none" stroke="#6e6ed8" stroke-width="1.35" stroke-linejoin="round"/>
<path d="M274.57 262.17V270.09M273.27 262.17H275.87M273.27 270.09H275.87" stroke="#1c18c0" stroke-width="0.85" fill="none"/>
<path d="M282.02 236.24V252.08M280.72 236.24H283.32M280.72 252.08H283.32" stroke="#1c18c0" stroke-width="0.85" fill="none"/>
<path d="M294.43 228.22V238.12M293.13 228.22H295.73M293.13 238.12H295.73" stroke="#1c18c0" stroke-width="0.85" fill="none"/>
<path d="M306.85 216.44V230.3M305.55 216.44H308.15M305.55 230.3H308.15" stroke="#1c18c0" stroke-width="0.85" fill="none"/>
<path d="M319.27 212.57V226.44M317.97 212.57H320.57M317.97 226.44H320.57" stroke="#1c18c0" stroke-width="0.85" fill="none"/>
<path d="M344.1 211.68V217.62M342.8 211.68H345.4M342.8 217.62H345.4" stroke="#1c18c0" stroke-width="0.85" fill="none"/>
<path d="M368.93 206.93V214.85M367.63 206.93H370.23M367.63 214.85H370.23" stroke="#1c18c0" stroke-width="0.85" fill="none"/>
<path d="M393.77 205.84V211.78M392.47 205.84H395.07M392.47 211.78H395.07" stroke="#1c18c0" stroke-width="0.85" fill="none"/>
<path d="M418.6 201.69V207.62M417.3 201.69H419.9M417.3 207.62H419.9" stroke="#1c18c0" stroke-width="0.85" fill="none"/>
<circle cx="269.6" cy="279.4" r="2.1" fill="#1c18c0"/>
<circle cx="274.57" cy="266.13" r="2.1" fill="#1c18c0"/>
<circle cx="282.02" cy="244.16" r="2.1" fill="#1c18c0"/>
<circle cx="294.43" cy="233.17" r="2.1" fill="#1c18c0"/>
<circle cx="306.85" cy="223.37" r="2.1" fill="#1c18c0"/>
<circle cx="319.27" cy="219.5" r="2.1" fill="#1c18c0"/>
<circle cx="344.1" cy="214.65" r="2.1" fill="#1c18c0"/>
<circle cx="368.93" cy="210.89" r="2.1" fill="#1c18c0"/>
<circle cx="393.77" cy="208.81" r="2.1" fill="#1c18c0"/>
<circle cx="418.6" cy="204.66" r="2.1" fill="#1c18c0"/>
<rect x="269.6" y="180.4" width="149" height="99" fill="none" stroke="#1e1e1e" stroke-width="1.4"/>
<path d="M269.6 279.4V283.4M282.02 279.4V281.6M294.43 279.4V283.4M306.85 279.4V281.6M319.27 279.4V283.4M331.68 279.4V281.6M344.1 279.4V283.4M356.52 279.4V281.6M368.93 279.4V283.4M381.35 279.4V281.6M393.77 279.4V283.4M406.18 279.4V281.6M418.6 279.4V283.4M269.6 279.4H265.6M269.6 259.6H265.6M269.6 239.8H265.6M269.6 220H265.6M269.6 200.2H265.6M269.6 180.4H265.6" stroke="#1e1e1e" stroke-width="1.2"/>
<text x="269.9" y="292.7" font-size="7.3" font-weight="bold" text-anchor="middle" fill="#222">0</text>
<text x="294.73" y="292.7" font-size="7.3" font-weight="bold" text-anchor="middle" fill="#222">50</text>
<text x="319.57" y="292.7" font-size="7.3" font-weight="bold" text-anchor="middle" fill="#222">100</text>
<text x="344.4" y="292.7" font-size="7.3" font-weight="bold" text-anchor="middle" fill="#222">150</text>
<text x="369.23" y="292.7" font-size="7.3" font-weight="bold" text-anchor="middle" fill="#222">200</text>
<text x="394.07" y="292.7" font-size="7.3" font-weight="bold" text-anchor="middle" fill="#222">250</text>
<text x="418.9" y="292.7" font-size="7.3" font-weight="bold" text-anchor="middle" fill="#222">300</text>
<text x="264.4" y="282.8" font-size="7.3" font-weight="bold" text-anchor="end" fill="#222">0</text>
<text x="264.4" y="263" font-size="7.3" font-weight="bold" text-anchor="end" fill="#222">20</text>
<text x="264.4" y="243.2" font-size="7.3" font-weight="bold" text-anchor="end" fill="#222">40</text>
<text x="264.4" y="223.4" font-size="7.3" font-weight="bold" text-anchor="end" fill="#222">60</text>
<text x="264.4" y="203.6" font-size="7.3" font-weight="bold" text-anchor="end" fill="#222">80</text>
<text x="264.4" y="183.8" font-size="7.3" font-weight="bold" text-anchor="end" fill="#222">100</text>
<text x="344.1" y="303.7" font-size="7.7" font-weight="bold" text-anchor="middle" fill="#111" textLength="53.9" lengthAdjust="spacingAndGlyphs">Energy (mJ/cm<tspan font-size="5.39" dy="-3.4">2</tspan><tspan dy="3.4" dx="0.5">)</tspan></text>
<text transform="translate(248.6 229.65) rotate(-90)" x="0" y="0" font-size="7.4" font-weight="bold" text-anchor="middle" fill="#111" textLength="93.9" lengthAdjust="spacingAndGlyphs">MC-LR concentration (mg/L)</text>
<path d="M425 188.5H436" stroke="#6e6ed8" stroke-width="1.1" stroke-opacity="0.65"/>
<circle cx="430.5" cy="188.5" r="2.1" fill="#1c18c0"/>
<text transform="translate(442 191.5) scale(0.99 1)" font-size="7.5" font-weight="normal" fill="#3a3a3a" stroke="#3a3a3a" stroke-width="0.22">pH=3</text>
<path d="M425 199.2H436" stroke="#b08468" stroke-width="1.1" stroke-opacity="0.65"/>
<circle cx="430.5" cy="199.2" r="1.3" fill="#5a3a22"/>
<text transform="translate(442 202.2) scale(0.99 1)" font-size="7.5" font-weight="normal" fill="#3a3a3a" stroke="#3a3a3a" stroke-width="0.22">pH=5</text>
<path d="M425 209.9H436" stroke="#90c080" stroke-width="1.1" stroke-opacity="0.65"/>
<circle cx="430.5" cy="209.9" r="1.3" fill="#4a8a3a"/>
<text transform="translate(442 212.9) scale(0.99 1)" font-size="7.5" font-weight="normal" fill="#3a3a3a" stroke="#3a3a3a" stroke-width="0.22">pH=7</text>
<path d="M425 220.9H436" stroke="#8a6ad8" stroke-width="1.1" stroke-opacity="0.65"/>
<circle cx="430.5" cy="220.9" r="1.3" fill="#4a20c0"/>
<text transform="translate(442 223.9) scale(0.99 1)" font-size="7.5" font-weight="normal" fill="#3a3a3a" stroke="#3a3a3a" stroke-width="0.22">pH=9</text>
<path d="M425 232H436" stroke="#c8c080" stroke-width="1.1" stroke-opacity="0.65"/>
<circle cx="430.5" cy="232" r="1.3" fill="#9a9a40"/>
<text transform="translate(442 235) scale(0.99 1)" font-size="7.5" font-weight="normal" fill="#3a3a3a" stroke="#3a3a3a" stroke-width="0.22">pH=11</text>
</svg>
</body></html>
